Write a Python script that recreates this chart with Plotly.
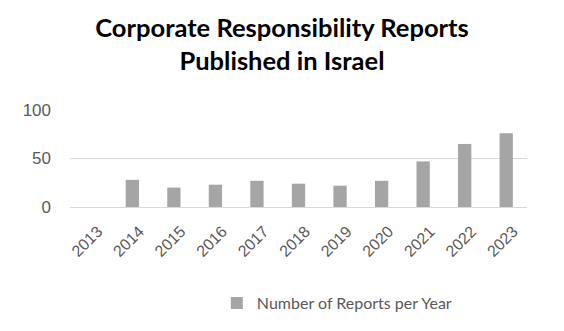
import plotly.graph_objects as go

years = ["2013", "2014", "2015", "2016", "2017", "2018", "2019", "2020", "2021", "2022", "2023"]
reports = [0, 28, 20, 23, 27, 24, 22, 27, 47, 65, 76]
y_ticks = [0, 50, 100]
series_name = "Number of Reports per Year"
title_text = "<b>Corporate Responsibility Reports<br>Published in Israel</b>"

fig = go.Figure()
fig.add_trace(go.Bar(
    x=years, y=reports, name=series_name,
    marker=dict(color="#a5a5a5", line=dict(width=0)),
    showlegend=True,
))

fig.update_layout(
    width=564, height=331,
    margin=dict(l=70, r=37, t=110, b=123),
    paper_bgcolor="white", plot_bgcolor="white",
    bargap=0.68,
    title=dict(text=title_text, x=0.5, xref="container", xanchor="center",
               y=1 - 37 / 331, yref="container", yanchor="middle",
               font=dict(family="Lato", size=25.5, color="#000000")),
    xaxis=dict(type="category", tickangle=-45, showgrid=False, showline=False,
               ticks="", ticklabelstandoff=11, ticklabelshift=7,
               tickfont=dict(family="Liberation Sans, Arial", size=16, color="#595959")),
    yaxis=dict(range=[0, 100], tickvals=y_ticks, showgrid=True, gridcolor="#d9d9d9",
               gridwidth=1, zeroline=True, zerolinecolor="#d9d9d9", zerolinewidth=1,
               ticks="", ticklabelstandoff=18,
               tickfont=dict(family="Liberation Sans, Arial", size=17, color="#595959")),
    legend=dict(orientation="h", x=0.585, xanchor="center", y=-0.97, yanchor="middle",
                font=dict(family="Lato", size=16, color="#595959"),
                itemwidth=30),
)

fig.write_html("out.html")
